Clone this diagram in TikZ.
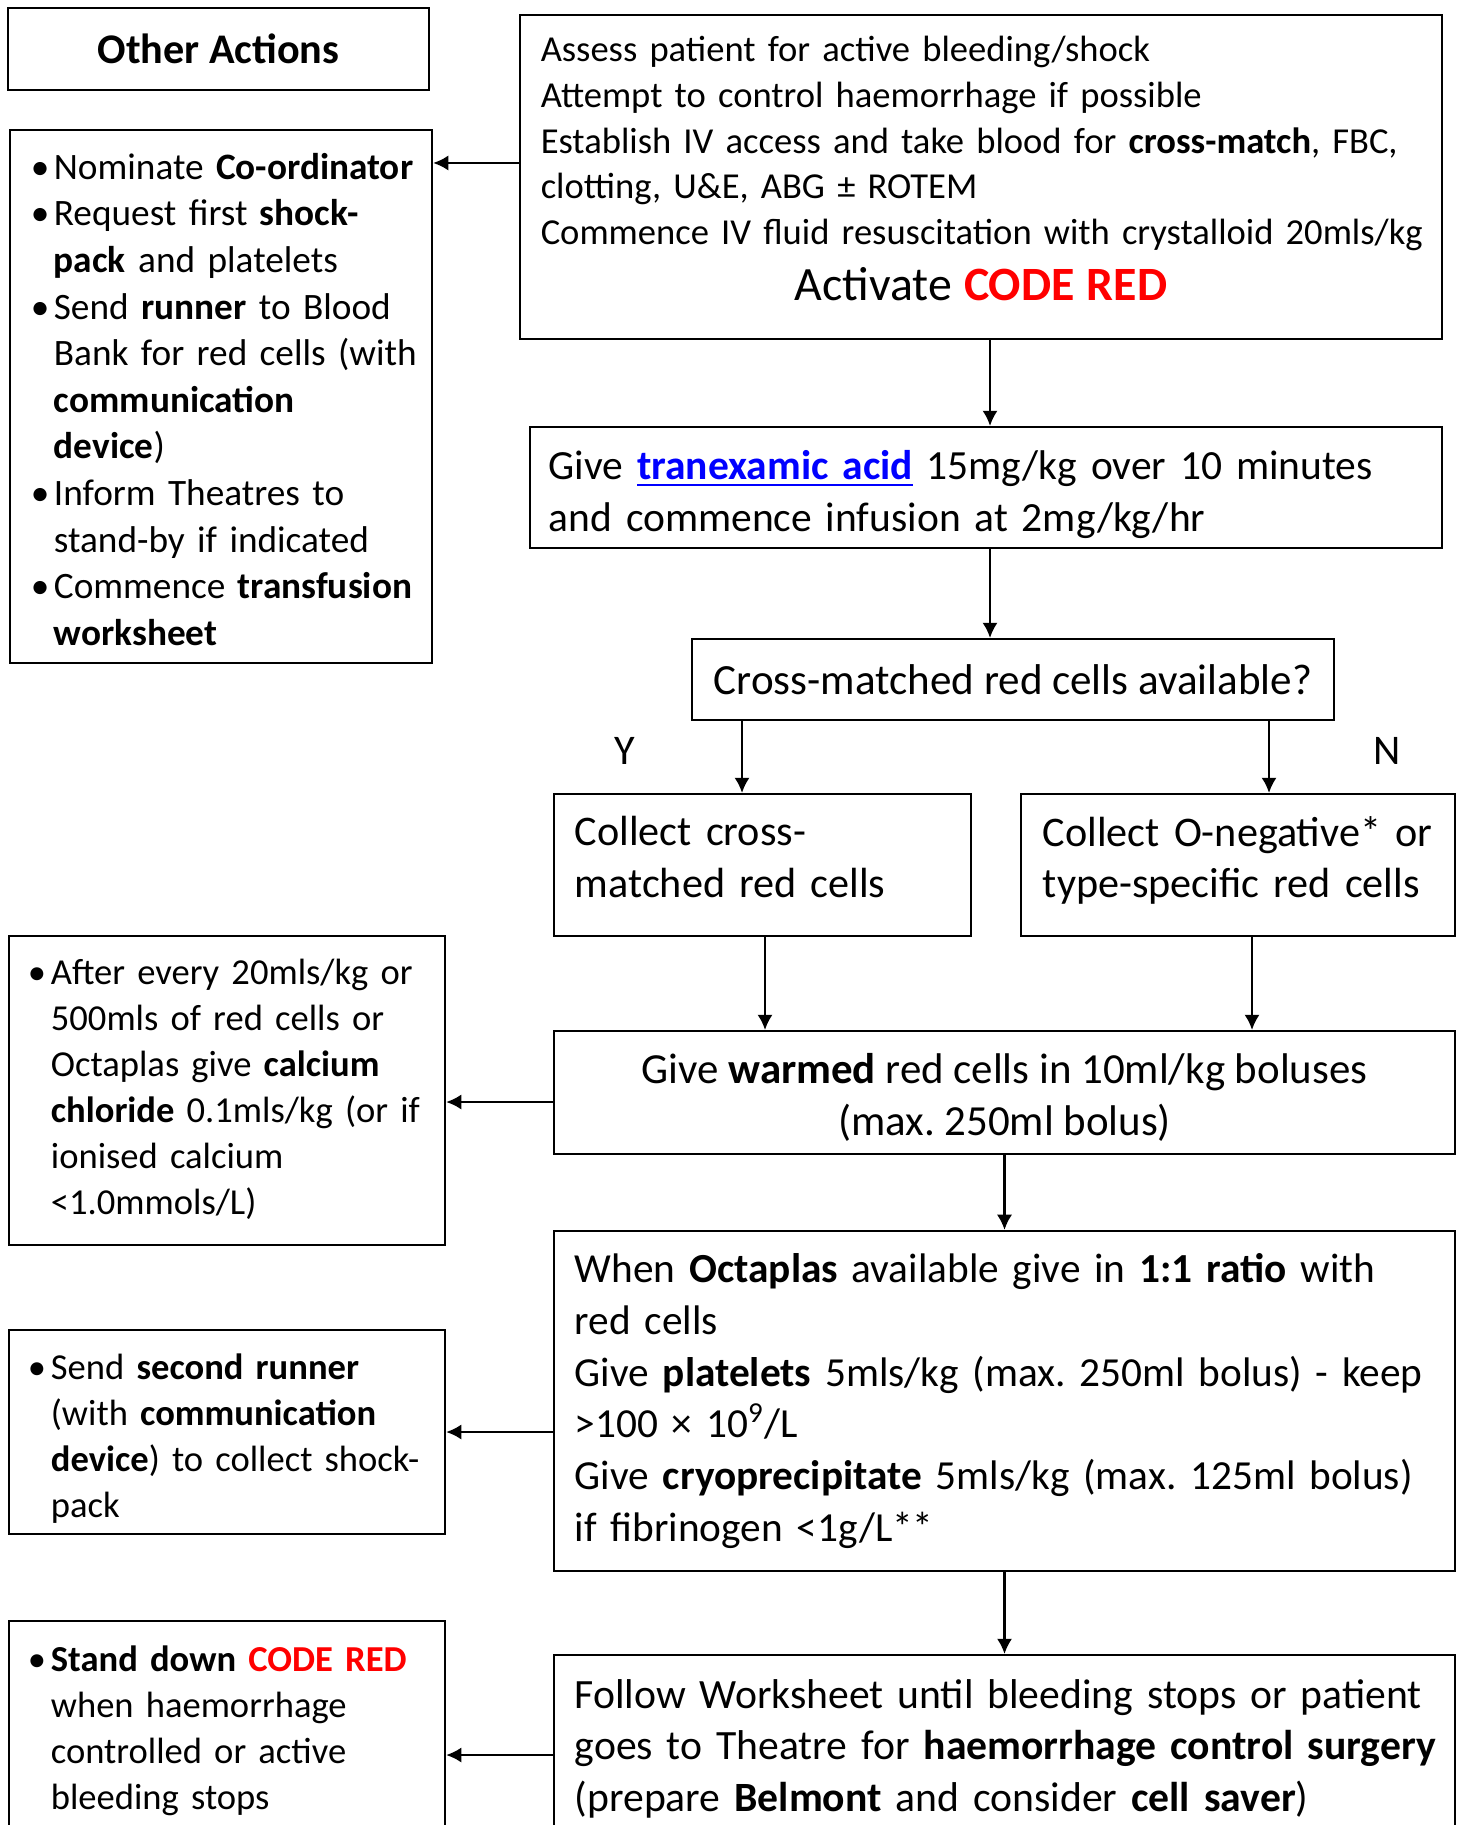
\documentclass[tikz,border=0pt]{standalone}
\usepackage{fontspec}
\setmainfont{Carlito}
\usetikzlibrary{arrows.meta}
\definecolor{codered}{RGB}{255,0,0}
\definecolor{linkblue}{RGB}{0,0,255}
\frenchspacing
\newcommand{\smalltxt}{\fontsize{10.4}{13.1}\selectfont}
\newcommand{\bigtxt}{\fontsize{11.8}{14.7}\selectfont}
\newcommand{\nobreaklines}{\rightskip=0pt plus 1fil minus 1cm\relax}
\newcommand{\bitem}{\noindent\hangindent=0.23cm\hangafter=1\hbox to 0.23cm{\textbullet\hss}}
\newcommand{\padbottom}[1]{\rule[-#1]{0pt}{0pt}}
\newcommand{\padtop}[1]{\rule{0pt}{#1}}

\begin{document}
\begin{tikzpicture}[x=0.01cm, y=-0.01cm, line width=0.6pt,
		>={Latex[length=4.3pt,width=4.3pt]},
		stepbox/.style={draw, rectangle, align=left, inner ysep=0pt,
			execute at begin node=\nobreaklines},
		bigbox/.style={stepbox, font=\bigtxt, inner xsep=0.21cm},
		sidebox/.style={stepbox, font=\smalltxt, inner xsep=0.19cm, text width=3.98cm},
		midbox/.style={draw, rectangle, align=center, inner sep=0pt, font=\bigtxt}
		]
		\useasboundingbox (0,0) rectangle (1464,1825);
		
		\node[midbox, font=\fontsize{12}{14.7}\selectfont, minimum width=4.21cm, minimum height=0.82cm](other) at (218.5,49){\textbf{Other Actions}};
		\node[sidebox, font=\fontsize{10.6}{13.25}\selectfont, inner xsep=0.21cm, text width=3.80cm, minimum height=5.33cm](oa1) at (221,396.5){%
			\bitem \padtop{0.32cm}Nominate \textbf{Co-ordinator}\par
			\bitem Request first \textbf{shock-}\newline\textbf{pack} and platelets\par
			\bitem Send \textbf{runner} to Blood\newline Bank for red cells (with\newline \textbf{communication}\newline \textbf{device})\par
			\bitem Inform Theatres to\newline stand-by if indicated\par
			\bitem Commence \textbf{transfusion}\newline \textbf{worksheet}\par};
		
		\node[stepbox, font=\fontsize{10.4}{13}\selectfont, inner xsep=0.21cm, text width=8.80cm, minimum height=3.24cm](act) at (981,177){%
			Assess patient for active bleeding/shock\newline
			Attempt to control haemorrhage if possible\newline
			Establish IV access and take blood for \textbf{cross-match}, FBC,\newline
			clotting, U\&E, ABG ± ROTEM\newline
			Commence IV fluid resuscitation with crystalloid 20mls/kg\par
			{\centering\fontsize{13.6}{15.9}\selectfont Activate \textcolor{codered}{\textbf{CODE RED}}\padbottom{0.17cm}\par}};
		\node[bigbox, inner xsep=0.19cm, text width=8.74cm, minimum height=1.21cm](txa) at (986,487.5){%
			\padtop{0.43cm}Give \textcolor{linkblue}{\underline{\textbf{tranexamic acid}}} 15mg/kg over 10 minutes\newline
			and commence infusion at 2mg/kg/hr};
		\node[midbox, font=\fontsize{12.25}{14.7}\selectfont, minimum width=6.42cm, minimum height=0.81cm](xm) at (1013,679.5){Cross-matched red cells available?};
		
		\node[bigbox, font=\fontsize{12}{14.7}\selectfont, text width=3.75cm, minimum height=1.42cm](yes) at (762.5,865){%
			Collect cross-\newline matched red cells\padbottom{0.16cm}};
		\node[bigbox, font=\fontsize{12}{14.7}\selectfont, inner xsep=0.22cm, text width=3.90cm, minimum height=1.42cm](no) at (1238,865){%
			Collect O-negative* or\newline type-specific red cells\padbottom{0.16cm}};
		\node[font=\fontsize{12}{14.7}\selectfont](ylab) at (625,751){Y};
		\node[font=\fontsize{12}{14.7}\selectfont](nlab) at (1387,751){N};
		
		\node[midbox, font=\fontsize{12.2}{14.7}\selectfont, minimum width=9.01cm, minimum height=1.23cm](warm) at (1004.5,1092.5){%
			\padtop{0.40cm}Give \textbf{warmed} red cells in 10ml/kg boluses\\ (max. 250ml bolus)};
		\node[sidebox, minimum height=3.09cm](oa2) at (227,1090.5){%
			\bitem After every 20mls/kg or\newline 500mls of red cells or\newline Octaplas give \textbf{calcium}\newline
			\textbf{chloride} 0.1mls/kg (or if\newline ionised calcium\newline <1.0mmols/L)\padbottom{0.075cm}\par};
		
		\node[bigbox, font=\fontsize{11.75}{14.75}\selectfont, text width=8.59cm, minimum height=3.40cm](octa) at (1004.5,1401){%
			When \textbf{Octaplas} available give in \textbf{1:1 ratio} with\newline
			red cells\newline
			Give \textbf{platelets} 5mls/kg (max. 250ml bolus) - keep\newline
			>100 × 10\textsuperscript{9}/L\newline
			Give \textbf{cryoprecipitate} 5mls/kg (max. 125ml bolus)\newline
			if fibrinogen <1g/L**\padbottom{0.05cm}};
		\node[sidebox, minimum height=2.04cm](oa3) at (227,1432){%
			\bitem \padtop{0.385cm}Send \textbf{second runner}\newline (with \textbf{communication}\newline
			\textbf{device}) to collect shock-\newline pack\par};
		
		\node[bigbox, font=\fontsize{11.85}{14.7}\selectfont, text width=8.59cm, minimum height=1.874cm](follow) at (1004.5,1748.7){%
			Follow Worksheet until bleeding stops or patient\newline
			goes to Theatre for \textbf{haemorrhage control surgery}\newline
			(prepare \textbf{Belmont} and consider \textbf{cell saver})};
		\node[sidebox, minimum height=2.19cm](oa4) at (227,1730.5){%
			\bitem \textbf{Stand down \textcolor{codered}{CODE RED}}\newline when haemorrhage\newline
			controlled or active\newline bleeding stops\par};
		
		\coordinate (spine) at (990,0);
		\coordinate (ysplit) at (742,0);
		\coordinate (nsplit) at (1269,0);
		\coordinate (yjoin) at (765,0);
		\coordinate (njoin) at (1252,0);
		
		\draw[->] (act.south -| spine) -- (txa.north -| spine);
		\draw[->] (txa.south -| spine) -- (xm.north -| spine);
		\draw[->] (xm.south -| ysplit) -- (yes.north -| ysplit);
		\draw[->] (xm.south -| nsplit) -- (no.north -| nsplit);
		\draw[->] (yes.south -| yjoin) -- (warm.north -| yjoin);
		\draw[->] (no.south -| njoin) -- (warm.north -| njoin);
		\draw[->] (warm.south -| octa.north) -- (octa.north);
		\draw[->] (octa.south -| follow.north) -- (follow.north);
		
		\draw[->] ([yshift=0.14cm]act.west) -- ([yshift=0.14cm]act.west -| oa1.east);
		\draw[->] ([yshift=-0.095cm]warm.west) -- ([yshift=-0.095cm]warm.west -| oa2.east);
		\draw[->] (octa.west |- oa3.east) -- (oa3.east);
		\draw[->] ([yshift=-0.063cm]follow.west) -- ([yshift=-0.063cm]follow.west -| oa4.east);
	\end{tikzpicture}
\end{document}
